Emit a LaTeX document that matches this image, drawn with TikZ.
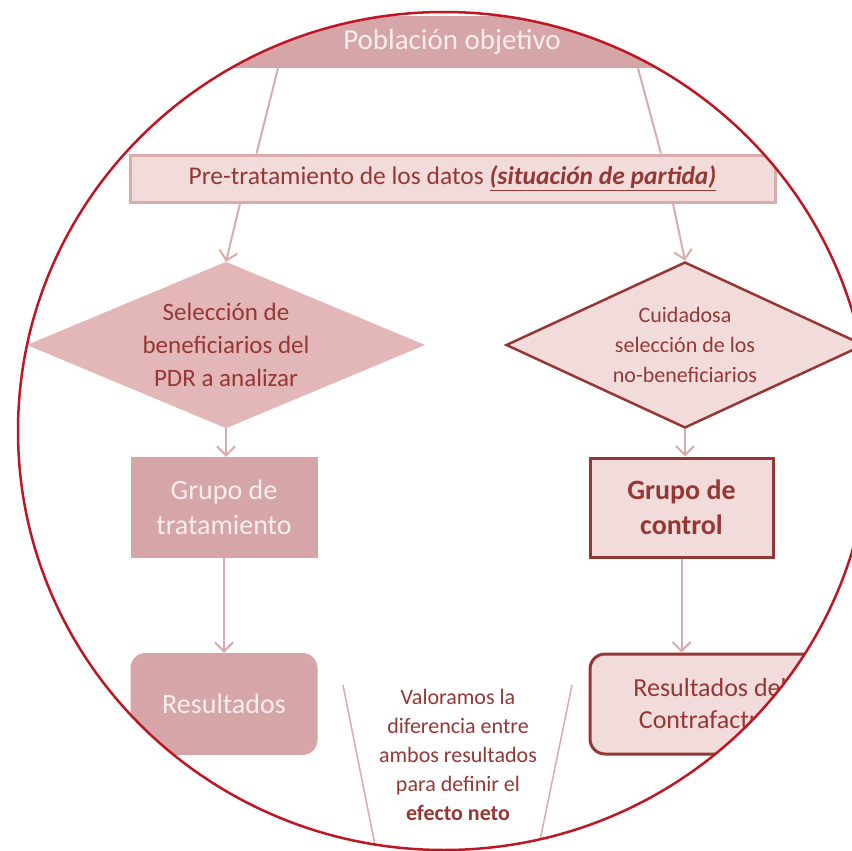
\documentclass[tikz,border=0pt]{standalone}
\usepackage{fontspec}
\setmainfont{Carlito}
\usetikzlibrary{shapes.geometric, arrows.meta, positioning}
\definecolor{darkrose}{HTML}{953735}
\definecolor{midrose}{HTML}{D6A5A7}
\definecolor{softrose}{HTML}{E3B7B7}
\definecolor{palerose}{HTML}{F2DCDB}
\definecolor{linkrose}{HTML}{D8ABAC}
\definecolor{ringred}{HTML}{BE1622}
\definecolor{lighttext}{HTML}{FAEEEE}
\tikzstyle{banner} = [rectangle, minimum width=560pt, minimum height=52pt, fill=midrose, text=lighttext, font=\fontsize{29}{34}\selectfont]
\tikzstyle{prebox} = [rectangle, minimum width=645pt, minimum height=47pt, draw=linkrose, line width=3pt, fill=palerose, text=darkrose, font=\fontsize{25.5}{30}\selectfont]
\tikzstyle{pickfill} = [diamond, inner sep=0pt, aspect=2.4, minimum width=397pt, minimum height=166pt, fill=softrose, draw=softrose, text=darkrose, align=center, font=\fontsize{25}{33}\selectfont]
\tikzstyle{pickline} = [diamond, inner sep=0pt, aspect=2.2, minimum width=358pt, minimum height=166pt, fill=palerose, draw=darkrose, line width=2.5pt, text=darkrose, align=center, font=\fontsize{22}{30}\selectfont]
\tikzstyle{groupfill} = [rectangle, minimum width=187pt, minimum height=101pt, fill=midrose, text=lighttext, align=center, font=\fontsize{28}{35}\selectfont]
\tikzstyle{groupline} = [rectangle, minimum width=183pt, minimum height=99pt, fill=palerose, draw=darkrose, line width=3pt, text=darkrose, align=center, font=\fontsize{28}{35}\selectfont\bfseries]
\tikzstyle{outfill} = [groupfill, rounded corners=15pt, minimum height=102pt]
\tikzstyle{outline} = [rectangle, rounded corners=15pt, minimum width=240pt, minimum height=100pt, fill=palerose, draw=darkrose, line width=3pt, text=darkrose, align=center, font=\fontsize{26}{32}\selectfont]
\tikzstyle{note} = [text=darkrose, align=center, font=\fontsize{22}{29}\selectfont]
\tikzstyle{link} = [line width=2pt, draw=linkrose]
\tikzstyle{arrow} = [link, ->, >={Straight Barb[length=9pt,width=18pt]}]
\tikzstyle{ring} = [line width=2.5pt, draw=ringred]

\begin{document}
\begin{tikzpicture}[x=1pt, y=1pt]
\useasboundingbox (0,0) rectangle (852,-851);

\begin{scope}
\clip (444,-431) ellipse [x radius=426, y radius=419];

\node (pop) [banner] at (452,-42) {Población objetivo};
\node (pre) [prebox] at (452.5,-178.5) {Pre-tratamiento de los datos \underline{\textbf{\textit{(situación de partida)}}}};
\node (selL) [pickfill] at (226,-345) {Selección de\\beneficiarios del\\PDR a analizar};
\node (selR) [pickline] at (685,-345) {Cuidadosa\\selección de los\\no-beneficiarios};
\node (trat) [groupfill, node distance=162.5pt, below of=selL, xshift=-2pt] {Grupo de\\tratamiento};
\node (ctrl) [groupline, node distance=162.5pt, below of=selR, xshift=-3.5pt] {Grupo de\\control};
\node (res) [outfill, node distance=196.5pt, below of=trat] {Resultados};
\node (contra) [outline, node distance=196.5pt, below of=ctrl, xshift=28.5pt] {Resultados del\\Contrafactual};
\node (valor) [note] at (458,-755) {Valoramos la\\diferencia entre\\ambos resultados\\para definir el\\\textbf{efecto neto}};

\coordinate (fanLtop) at (343,-685);
\coordinate (fanLbot) at (378,-860);
\coordinate (fanRtop) at (572,-685);
\coordinate (fanRbot) at (536,-860);

\draw [link] ([xshift=-174pt]pop.south) -- ([xshift=-196pt]pre.north);
\draw [link] ([xshift=186pt]pop.south) -- ([xshift=208.5pt]pre.north);
\draw [arrow] ([xshift=-212.5pt]pre.south) -- (selL.north);
\draw [arrow] ([xshift=220.5pt]pre.south) -- (selR.north);
\draw [arrow] (selL.south) -- (selL.south |- trat.north);
\draw [arrow] (selR.south) -- (selR.south |- ctrl.north);
\draw [arrow] (trat) -- (res);
\draw [arrow] (ctrl.south) -- (ctrl.south |- contra.north);
\draw [link, line width=1.5pt] (fanLtop) -- (fanLbot);
\draw [link, line width=1.5pt] (fanRtop) -- (fanRbot);
\end{scope}

\draw [ring] (444,-431) ellipse [x radius=426, y radius=419];

\end{tikzpicture}
\end{document}
